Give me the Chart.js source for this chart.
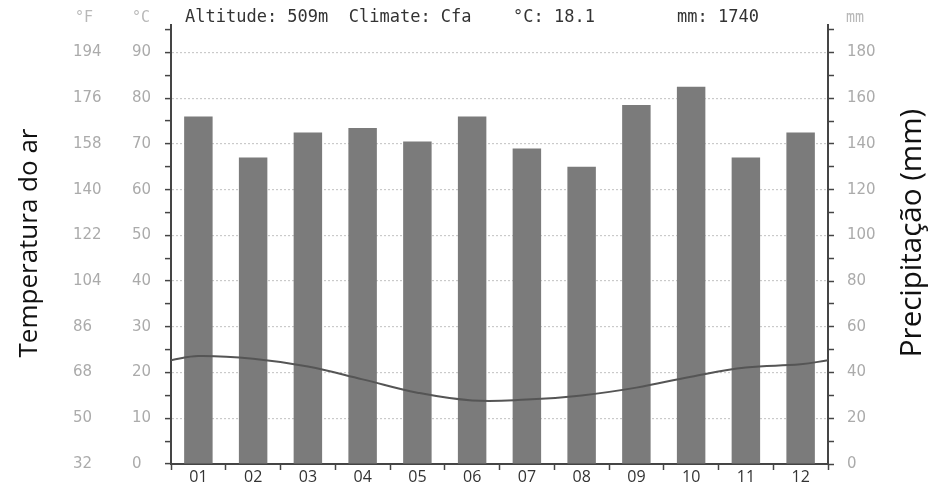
<!DOCTYPE html>
<html>
<head>
<meta charset="utf-8">
<title>Climograma</title>
<script src="https://cdn.jsdelivr.net/npm/chart.js@4/dist/chart.umd.min.js"></script>
<style>
  html, body { margin: 0; padding: 0; background: #ffffff; }
  #wrap { width: 931px; height: 486px; position: relative; }
</style>
</head>
<body>
<div id="wrap"><canvas id="climograma" width="931" height="486"></canvas></div>
<script>
// Monthly climate normals
const months = ['01', '02', '03', '04', '05', '06', '07', '08', '09', '10', '11', '12'];
const precipitationMm = [152, 134, 145, 147, 141, 152, 138, 130, 157, 165, 134, 145];
const temperatureC = [23.6, 23.0, 21.3, 18.5, 15.6, 13.9, 14.1, 15.0, 16.7, 19.1, 21.1, 21.8];

// Station summary
const altitudeM = 509;
const climateClass = 'Cfa';
const annualMeanC = 18.1;
const annualTotalMm = precipitationMm.reduce((a, b) => a + b, 0);

// Axis titles
const leftTitle = 'Temperatura do ar';
const rightTitle = 'Precipitação (mm)';

// Temperature curve: monthly points at category centres, wrapped to the plot edges
// with the December/January mean so the curve runs across the whole frame.
const edgeTemp = (temperatureC[0] + temperatureC[temperatureC.length - 1]) / 2;
const tempPoints = [{ x: 0.5, y: edgeTemp }]
  .concat(temperatureC.map((t, i) => ({ x: i + 1, y: t })))
  .concat([{ x: months.length + 0.5, y: edgeTemp }]);

const AXIS = '#454545';
const TICK_TEXT = '#ababab';
const GRID = '#cacaca';

const headerPlugin = {
  id: 'header',
  afterDraw(chart) {
    const ctx = chart.ctx;
    ctx.save();
    // unit captions above the axes
    ctx.font = '15px "DejaVu Sans Mono"';
    ctx.fillStyle = '#b8b8b8';
    ctx.textBaseline = 'middle';
    ctx.textAlign = 'left';
    ctx.fillText('°F', 75, 18);
    ctx.fillText('°C', 132, 18);
    ctx.fillText('mm', 846, 18);

    // station summary line
    ctx.font = '17px "DejaVu Sans Mono"';
    ctx.fillStyle = '#333333';
    ctx.fillText('Altitude: ' + altitudeM + 'm  Climate: ' + climateClass, 185, 18);
    ctx.fillText('°C: ' + annualMeanC.toFixed(1), 513, 18);
    ctx.fillText('mm: ' + annualTotalMm, 677, 18);

    // rotated axis titles
    ctx.fillStyle = '#111111';
    ctx.textAlign = 'center';
    ctx.textBaseline = 'alphabetic';
    ctx.save();
    ctx.translate(37, 243);
    ctx.rotate(-Math.PI / 2);
    ctx.font = '26px "Open Sans"';
    ctx.fillText(leftTitle, 0, 0);
    ctx.restore();

    ctx.save();
    ctx.translate(921, 233);
    ctx.rotate(-Math.PI / 2);
    ctx.font = '29.5px "Open Sans"';
    ctx.fillText(rightTitle, 0, 0);
    ctx.restore();
    ctx.restore();
  }
};

const tickFont = { family: 'DejaVu Sans', size: 15 };

new Chart(document.getElementById('climograma'), {
  type: 'bar',
  data: {
    labels: months,
    datasets: [
      {
        type: 'line',
        label: 'Temperatura',
        data: tempPoints,
        xAxisID: 'xl',
        yAxisID: 'y',
        borderColor: '#555555',
        borderWidth: 2,
        pointRadius: 0,
        tension: 0.4,
        order: 0
      },
      {
        type: 'bar',
        label: 'Precipitação',
        data: precipitationMm,
        xAxisID: 'x',
        yAxisID: 'y2',
        backgroundColor: '#7b7b7b',
        grouped: false,
        barPercentage: 0.52,
        categoryPercentage: 1,
        order: 1
      }
    ]
  },
  options: {
    responsive: false,
    animation: false,
    devicePixelRatio: 1,
    layout: { padding: { left: 73, right: 43, top: 25, bottom: 0 } },
    plugins: { legend: { display: false }, tooltip: { enabled: false } },
    scales: {
      x: {
        type: 'category',
        position: 'bottom',
        offset: true,
        grid: { offset: true, drawOnChartArea: false, tickLength: 6, tickColor: AXIS, tickWidth: 1.5 },
        border: { color: AXIS, width: 2 },
        ticks: { color: '#333333', font: { family: 'Open Sans', size: 16 }, padding: -2, maxRotation: 0, autoSkip: false },
        afterFit: s => { s.height = 21; }
      },
      xl: {
        type: 'linear',
        display: false,
        offset: false,
        grid: { offset: false },
        min: 0.5,
        max: months.length + 0.5
      },
      yF: {
        type: 'linear',
        position: 'left',
        weight: 1,
        min: 0,
        max: 96,
        grid: { display: false, drawTicks: false },
        border: { display: false },
        ticks: {
          stepSize: 10,
          includeBounds: false,
          crossAlign: 'far',
          color: TICK_TEXT,
          font: tickFont,
          callback: v => Math.round(v * 9 / 5 + 32)
        },
        afterFit: s => { s.width = 59; }
      },
      y: {
        type: 'linear',
        position: 'left',
        weight: 0,
        min: 0,
        max: 96,
        grid: {
          color: ctx => (ctx.tick && ctx.tick.value > 0 && ctx.tick.value % 10 === 0) ? GRID : 'rgba(0,0,0,0)',
          lineWidth: 1.2,
          tickColor: AXIS,
          tickLength: 6,
          tickWidth: 1.5
        },
        border: { color: AXIS, width: 2, dash: [2, 2] },
        ticks: {
          stepSize: 5,
          includeBounds: false,
          crossAlign: 'far',
          color: TICK_TEXT,
          font: tickFont,
          callback: v => (v % 10 === 0 ? v : '')
        },
        afterFit: s => { s.width = 39; }
      },
      y2: {
        type: 'linear',
        position: 'right',
        min: 0,
        max: 192,
        grid: { drawOnChartArea: false, tickColor: AXIS, tickLength: 6, tickWidth: 1.5 },
        border: { color: AXIS, width: 2 },
        ticks: {
          stepSize: 10,
          includeBounds: false,
          padding: 13,
          color: TICK_TEXT,
          font: tickFont,
          callback: v => (v % 20 === 0 ? v : '')
        },
        afterFit: s => { s.width = 60; }
      }
    }
  },
  plugins: [headerPlugin]
});
</script>
</body>
</html>
